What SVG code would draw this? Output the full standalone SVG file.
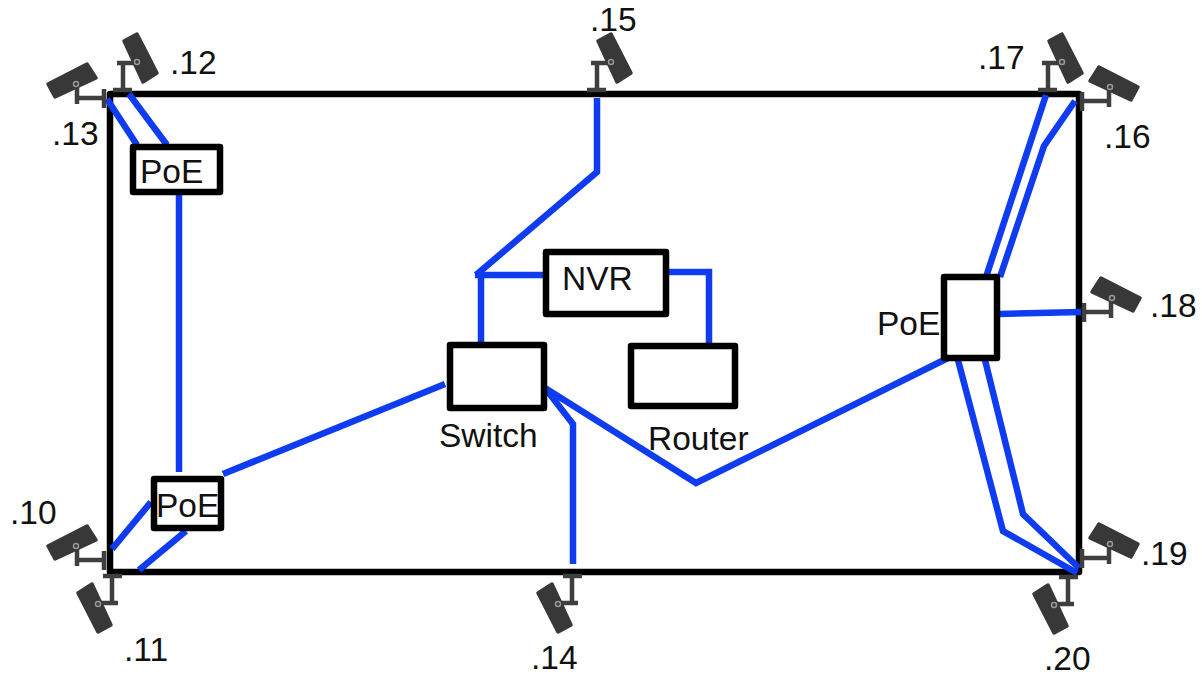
<svg xmlns="http://www.w3.org/2000/svg" xmlns:xlink="http://www.w3.org/1999/xlink" width="1202" height="677" viewBox="0 0 1202 677">
<style>
.frame,.box{fill:none;stroke:#000;stroke-width:6.5;stroke-linejoin:round}
.box{fill:#fff}
.wire{fill:none;stroke:#0f3cf0;stroke-width:6.5;stroke-linejoin:miter}
.lbl{font-family:"Liberation Sans",Arial,sans-serif;font-size:33.5px;fill:#111}
.cb{fill:#383838;stroke:#383838;stroke-width:3.5;stroke-linejoin:round}
.cm{fill:none;stroke:#3f3f3f;stroke-width:4.5}
.cp{fill:none;stroke:#999;stroke-width:1.5}
</style>
<defs>
<g id="cam">
<path class="cm" d="M-10 -1H9M0 0V-28M-6 -28H14"/>
<polygon class="cb" points="1,-50 14,-57 34,-18 20,-9"/>
<circle class="cp" cx="14" cy="-29" r="2.5"/>
</g>
</defs>
<rect id="outline" class="frame" x="110" y="94" width="969" height="478"/>
<g id="connectors">
<path class="wire" d="M107 99L137 145"/>
<path class="wire" d="M129 94L167 145"/>
<path class="wire" d="M179 195V472"/>
<path class="wire" d="M112 549L151 502"/>
<path class="wire" d="M139 570L186 531"/>
<path class="wire" d="M223 474L445 384"/>
<path class="wire" d="M597 98V172L476 275"/>
<path class="wire" d="M481 275V345"/>
<path class="wire" d="M475 275H546"/>
<path class="wire" d="M667 272H709V345"/>
<path class="wire" d="M545 388L696 483L948 358"/>
<path class="wire" d="M545 388L573 424V564"/>
<path class="wire" d="M1046 95L986 277"/>
<path class="wire" d="M1075 101L1044 146L1000 277"/>
<path class="wire" d="M998 314L1081 312"/>
<path class="wire" d="M958 360L1003 531L1077 573"/>
<path class="wire" d="M985 360L1023 514L1079 568"/>
</g>
<g id="poe-top-left"><rect class="box" x="133" y="147" width="87" height="45"/><text class="lbl" x="140" y="183">PoE</text></g>
<g id="poe-bottom-left"><rect class="box" x="154" y="479" width="67" height="49"/><text class="lbl" x="156" y="517">PoE</text></g>
<g id="nvr"><rect class="box" x="546" y="252" width="120" height="62"/><text class="lbl" x="562" y="290">NVR</text></g>
<g id="switch"><rect class="box" x="450" y="345" width="94" height="63"/><text class="lbl" x="439" y="447">Switch</text></g>
<g id="router"><rect class="box" x="631" y="346" width="104" height="60"/><text class="lbl" x="648" y="450">Router</text></g>
<g id="poe-right"><rect class="box" x="944" y="277" width="53" height="81"/><text class="lbl" x="877" y="335">PoE</text></g>
<g id="cam-12"><use xlink:href="#cam" href="#cam" transform="translate(123 91)"/><text class="lbl" x="170" y="74">.12</text></g>
<g id="cam-13"><use xlink:href="#cam" href="#cam" transform="translate(105 98) rotate(-90)"/><text class="lbl" x="52" y="145">.13</text></g>
<g id="cam-10"><use xlink:href="#cam" href="#cam" transform="translate(105 560) rotate(-90)"/><text class="lbl" x="10" y="524">.10</text></g>
<g id="cam-11"><use xlink:href="#cam" href="#cam" transform="translate(112 575) rotate(180)"/><text class="lbl" x="124" y="661">.11</text></g>
<g id="cam-14"><use xlink:href="#cam" href="#cam" transform="translate(572 575) rotate(180)"/><text class="lbl" x="531" y="669">.14</text></g>
<g id="cam-15"><use xlink:href="#cam" href="#cam" transform="translate(597 91)"/><text class="lbl" x="590" y="31">.15</text></g>
<g id="cam-17"><use xlink:href="#cam" href="#cam" transform="translate(1048 91)"/><text class="lbl" x="978" y="69">.17</text></g>
<g id="cam-16"><use xlink:href="#cam" href="#cam" transform="translate(1081 101) scale(-1 1) rotate(-90)"/><text class="lbl" x="1104" y="148">.16</text></g>
<g id="cam-18"><use xlink:href="#cam" href="#cam" transform="translate(1083 312) scale(-1 1) rotate(-90)"/><text class="lbl" x="1150" y="317">.18</text></g>
<g id="cam-19"><use xlink:href="#cam" href="#cam" transform="translate(1081 558) scale(-1 1) rotate(-90)"/><text class="lbl" x="1141" y="565">.19</text></g>
<g id="cam-20"><use xlink:href="#cam" href="#cam" transform="translate(1068 576) rotate(180)"/><text class="lbl" x="1044" y="670">.20</text></g>
</svg>
